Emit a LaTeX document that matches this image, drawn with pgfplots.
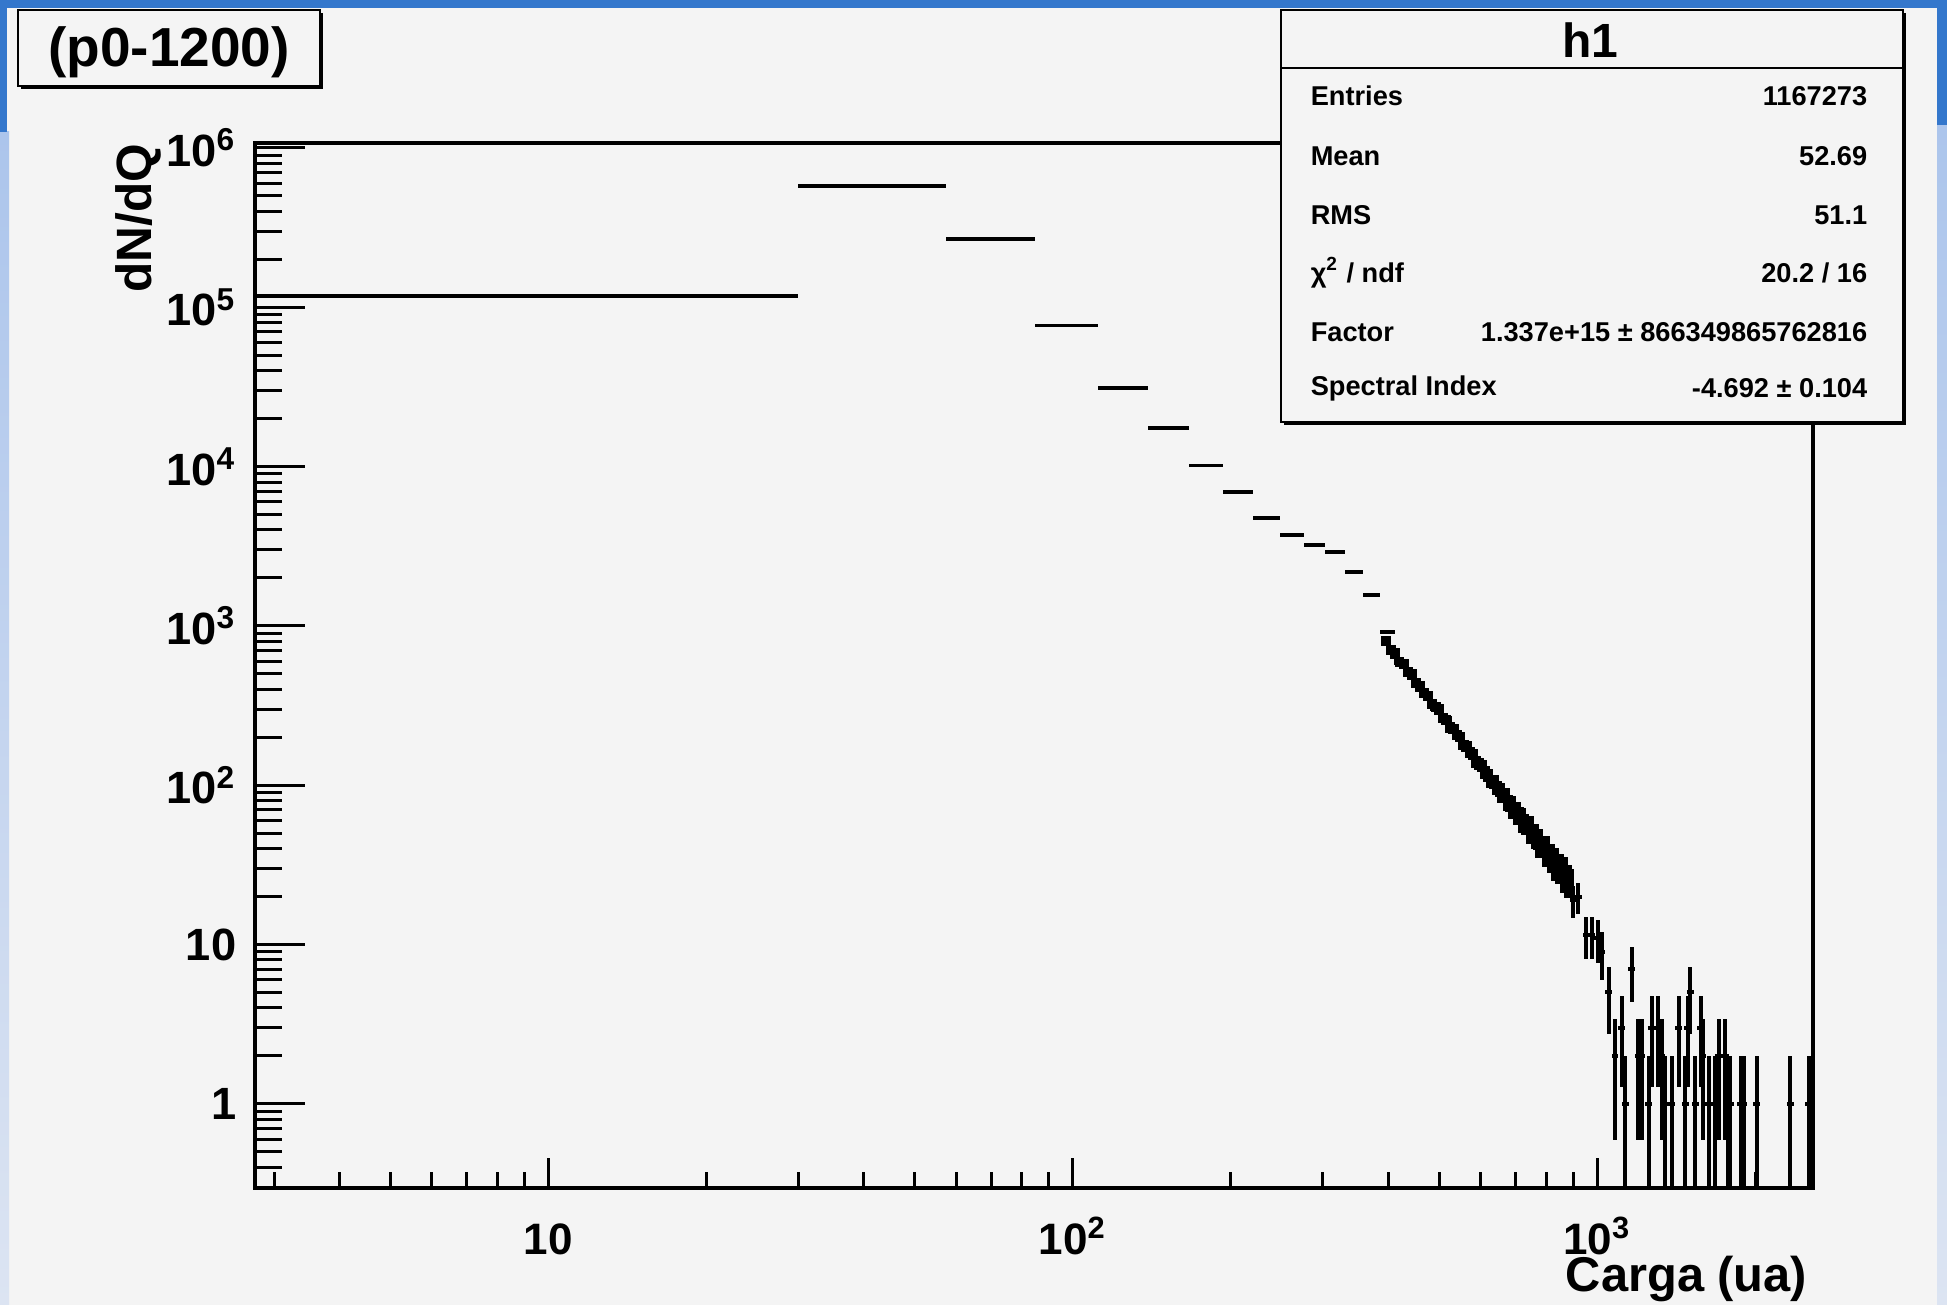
\documentclass[border=0pt]{standalone}
\usepackage{fontspec}
\setmainfont{Liberation Sans}
\usepackage{pgfplots}
\usepackage{pgfplotstable}
\pgfplotsset{compat=1.18}
\definecolor{canvas}{RGB}{244,244,244}
\definecolor{framedark}{RGB}{52,119,204}
\definecolor{framelight}{RGB}{172,197,236}
\definecolor{framepale}{RGB}{220,228,242}

% wide bins (bin width 27.3)
\pgfplotstableread{
x y xl xu yl yu
16.35 118000 13.65 13.65 344 344
43.65 578000 13.65 13.65 760 760
70.95 269000 13.65 13.65 519 519
98.25 76600 13.65 13.65 277 277
125.55 31100 13.65 13.65 176 176
152.85 17500 13.65 13.65 132 132
180.15 10200 13.65 13.65 101 101
207.45 6930 13.65 13.65 83 83
234.75 4760 13.65 13.65 69 69
262.05 3720 13.65 13.65 61 61
289.35 3220 13.65 13.65 57 57
316.65 2910 13.65 13.65 54 54
343.95 2180 13.65 13.65 47 47
371.25 1560 13.65 13.65 39.5 39.5
398.55 916 13.65 13.65 30 30
}\widebins

% dense narrow bins
\pgfplotstableread{
x y ex ey
396 802 8.7 28.3
404 707 8.9 26.6
412 670 9.1 25.9
420 593 9.2 24.4
428 575 9.4 24.0
436 515 9.6 22.7
444 495 9.8 22.2
452 437 9.9 20.9
460 417 10.1 20.4
468 380 10.3 19.5
476 364 10.5 19.1
484 323 10.6 18.0
492 310 10.8 17.6
500 298 11.0 17.3
508 265 11.2 16.3
516 256 11.4 16.0
524 230 11.5 15.2
532 226 11.7 15.0
540 206 11.9 14.4
548 201 12.1 14.2
556 179 12.2 13.4
564 175 12.4 13.2
572 161 12.6 12.7
580 156 12.8 12.5
588 140 12.9 11.8
596 137 13.1 11.7
604 133 13.3 11.5
612 120 13.5 11.0
620 115 13.6 10.7
628 106 13.8 10.3
636 105 14.0 10.2
644 96.7 14.2 9.8
652 93.6 14.3 9.7
660 86.2 14.5 9.3
668 86.8 14.7 9.3
676 77.8 14.9 8.8
684 76.3 15.0 8.7
692 69.6 15.2 8.3
700 69.8 15.4 8.4
708 64.5 15.6 8.0
716 64.0 15.8 8.0
724 58.0 15.9 7.6
732 56.5 16.1 7.5
740 56.1 16.3 7.5
748 50.0 16.5 7.1
756 49.7 16.6 7.0
764 46.5 16.8 6.8
772 45.9 17.0 6.8
780 41.3 17.2 6.4
788 41.6 17.3 6.4
796 41.4 17.5 6.4
804 36.7 17.7 6.1
812 36.9 17.9 6.1
820 34.0 18.0 5.8
828 34.6 18.2 5.9
836 30.4 18.4 5.5
844 31.3 18.6 5.6
852 29.2 18.7 5.4
860 30.0 18.9 5.5
868 26.1 19.1 5.1
876 26.5 19.3 5.1
884 24.7 19.4 5.0
}\densebins

% sparse tail
\pgfplotstableread{
x y ex ym yp
900 19 13.5 4.36 4.36
920 20 13.8 4.47 4.47
953 11.5 14.3 3.39 3.39
977 11.5 14.7 3.39 3.39
1003 11 15.0 3.32 3.32
1021 9 15.3 3.0 3.0
1053 5 15.8 2.24 2.24
1082 2 16.2 1.41 1.41
1115 3 16.7 1.73 1.73
1131 1 17.0 0.99 1.0
1165 7 17.5 2.65 2.65
1199 2 18.0 1.41 1.41
1208 2 18.1 1.41 1.41
1217 2 18.3 1.41 1.41
1253 1 18.8 0.99 1.0
1271 3 19.1 1.73 1.73
1309 3 19.6 1.73 1.73
1329 2 19.9 1.41 1.41
1349 1 20.2 0.99 1.0
1388 1 20.8 0.99 1.0
1430 3 21.5 1.73 1.73
1472 1 22.1 0.99 1.0
1489 3 22.3 1.73 1.73
1505 5 22.6 2.24 2.24
1538 1 23.1 0.99 1.0
1577 3 23.7 1.73 1.73
1591 2 23.9 1.41 1.41
1631 1 24.5 0.99 1.0
1680 1 25.2 0.99 1.0
1704 2 25.6 1.41 1.41
1755 2 26.3 1.41 1.41
1773 1 26.6 0.99 1.0
1784 1 26.8 0.99 1.0
1794 1 26.9 0.99 1.0
1880 1 28.2 0.99 1.0
1891 1 28.4 0.99 1.0
1902 1 28.5 0.99 1.0
2017 1 30.3 0.99 1.0
2335 1 35.0 0.99 1.0
2531 1 38.0 0.99 1.0
}\tailbins

\begin{document}
\begin{tikzpicture}
\useasboundingbox (0,0) rectangle (486.75pt,326.25pt);
% canvas and slide frame
\fill[canvas] (0,0) rectangle (486.75pt,326.25pt);
\shade[top color=framelight, bottom color=framepale] (0,0) rectangle (2.25pt,293.25pt);
\shade[top color=framelight, bottom color=framepale] (484.25pt,0) rectangle (486.75pt,295pt);
\fill[framedark] (0,293.25pt) rectangle (1.75pt,326.25pt);
\fill[framedark] (484.25pt,295pt) rectangle (486.75pt,326.25pt);
\fill[framedark] (0,324.25pt) rectangle (486.75pt,326.25pt);

% main axis: data and y ticks
\begin{axis}[
  at={(63.75pt,29.25pt)}, anchor=south west,
  scale only axis, width=389.5pt, height=261.25pt,
  xmode=log, ymode=log,
  xmin=2.76, xmax=2580, ymin=0.296, ymax=1.075e6,
  axis line style={line width=1pt, black},
  tick align=inside,
  every tick/.style={black, line width=0.75pt},
  xtick=\empty, xmajorticks=false, xminorticks=false,
  ytick={1,10,100,1000,10000,100000,1000000},
  yticklabels={1,10,10\textsuperscript{2},10\textsuperscript{3},10\textsuperscript{4},10\textsuperscript{5},10\textsuperscript{6}},
  minor ytick={0.3,0.4,0.5,0.6,0.7,0.8,0.9,2,3,4,5,6,7,8,9,20,30,40,50,60,70,80,90,200,300,400,500,600,700,800,900,2000,3000,4000,5000,6000,7000,8000,9000,20000,30000,40000,50000,60000,70000,80000,90000,200000,300000,400000,500000,600000,700000,800000,900000},
  ytick pos=left,
  major tick length=12.5pt, minor tick length=6.75pt,
  yticklabel style={font=\fontsize{11.3}{13}\selectfont\bfseries, anchor=east, inner sep=0pt, xshift=-4.5pt},
  clip=true,
]
\addplot[draw=none, mark=none, forget plot,
  error bars/.cd, x dir=both, x explicit, y dir=both, y explicit,
  error mark=none, error bar style={draw=black, solid, line width=0.85pt}]
  table[x=x, y=y, x error minus=xl, x error plus=xu, y error minus=yl, y error plus=yu] {\widebins};
\addplot[draw=none, mark=none, forget plot,
  error bars/.cd, x dir=both, x explicit, y dir=both, y explicit,
  error mark=none, error bar style={draw=black, solid, line width=2.6pt}]
  table[x=x, y=y, x error=ex, y error=ey] {\densebins};
\addplot[draw=none, mark=none, forget plot,
  error bars/.cd, x dir=both, x explicit, y dir=both, y explicit,
  error mark=none, error bar style={draw=black, solid, line width=1pt}]
  table[x=x, y=y, x error=ex, y error minus=ym, y error plus=yp] {\tailbins};
\end{axis}

% second axis: x ticks (shorter ticks as in ROOT)
\begin{axis}[
  at={(63.75pt,29.25pt)}, anchor=south west,
  scale only axis, width=389.5pt, height=261.25pt,
  xmode=log, ymode=log,
  xmin=2.76, xmax=2580, ymin=0.296, ymax=1.075e6,
  axis line style={line width=1pt, black},
  tick align=inside,
  every tick/.style={black, line width=0.75pt},
  ytick=\empty, ymajorticks=false, yminorticks=false,
  xtick={10,100,1000},
  xticklabels={10,10\textsuperscript{2},10\textsuperscript{3}},
  minor xtick={3,4,5,6,7,8,9,20,30,40,50,60,70,80,90,200,300,400,500,600,700,800,900,2000},
  xtick pos=left,
  major tick length=7.5pt, minor tick length=4pt,
  xticklabel style={font=\fontsize{11}{13}\selectfont\bfseries, anchor=base, inner sep=0pt, yshift=-16.5pt},
]
\end{axis}

% axis titles
\node[rotate=90, anchor=base east, inner sep=0pt, font=\fontsize{12.4}{14}\selectfont\bfseries] at (37.75pt,290.5pt) {dN/dQ};
\node[anchor=base east, inner sep=0pt, font=\fontsize{12.2}{14}\selectfont\bfseries] at (452pt,3.4pt) {Carga (ua)};

% title box
\fill[black] (5.25pt,304pt) rectangle (80.75pt,323pt);
\filldraw[fill=canvas, draw=black, line width=0.6pt] (4.5pt,304.75pt) rectangle (80pt,323.75pt);
\node[font=\fontsize{13.75}{16}\selectfont\bfseries, inner sep=0pt] at (42.25pt,313.25pt) {(p0-1200)};

% stats box
\fill[black] (321pt,220pt) rectangle (476.5pt,323pt);
\filldraw[fill=canvas, draw=black, line width=0.6pt] (320.25pt,220.75pt) rectangle (475.75pt,323.75pt);
\draw[line width=0.6pt] (320.25pt,309.25pt) -- (475.75pt,309.25pt);
\node[font=\fontsize{12}{14}\selectfont\bfseries, inner sep=0pt] at (397.5pt,316.25pt) {h1};
\begin{scope}[every node/.style={font=\fontsize{6.8}{8}\selectfont\bfseries, inner sep=0pt}]
\node[anchor=west] at (327.5pt,302.25pt) {Entries};
\node[anchor=east] at (467pt,302.25pt) {1167273};
\node[anchor=west] at (327.5pt,287.25pt) {Mean};
\node[anchor=east] at (467pt,287.25pt) {52.69};
\node[anchor=west] at (327.5pt,272.5pt) {RMS};
\node[anchor=east] at (467pt,272.5pt) {51.1};
\node[anchor=west] at (327.5pt,258pt) {χ\textsuperscript{2} / ndf};
\node[anchor=east] at (467pt,258pt) {20.2 / 16};
\node[anchor=west] at (327.5pt,243.25pt) {Factor};
\node[anchor=east] at (467pt,243.25pt) {1.337e+15 ± 866349865762816};
\node[anchor=west] at (327.5pt,229.25pt) {Spectral Index};
\node[anchor=east] at (467pt,229.25pt) {-4.692 ± 0.104};
\end{scope}
\end{tikzpicture}
\end{document}
